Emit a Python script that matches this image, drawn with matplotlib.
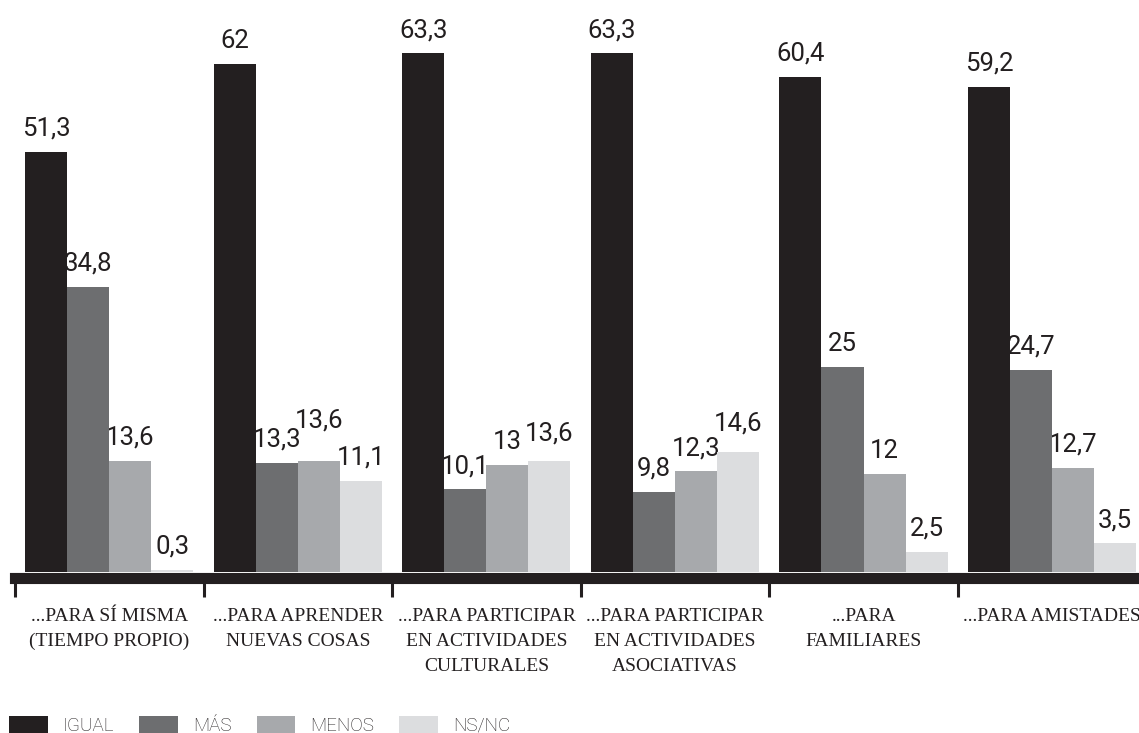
import matplotlib.pyplot as plt
import numpy as np
from matplotlib.patches import Patch

categories = ["...PARA SÍ MISMA\n(TIEMPO PROPIO)", "...PARA APRENDER\nNUEVAS COSAS",
              "...PARA PARTICIPAR\nEN ACTIVIDADES\nCULTURALES",
              "...PARA PARTICIPAR\nEN ACTIVIDADES\nASOCIATIVAS",
              "...PARA\nFAMILIARES", "...PARA AMISTADES"]
series = ["IGUAL", "MÁS", "MENOS", "NS/NC"]
igual = [51.3, 62, 63.3, 63.3, 60.4, 59.2]
mas = [34.8, 13.3, 10.1, 9.8, 25, 24.7]
menos = [13.6, 13.6, 13, 12.3, 12, 12.7]
nsnc = [0.3, 11.1, 13.6, 14.6, 2.5, 3.5]
colors = ["#231f20", "#6d6e70", "#a7a9ac", "#dcdddf"]

# labels nudged upward in the original to avoid overlap (series, group) -> extra points
nudge = {(2, 1): 12, (3, 3): 4, (3, 2): 3}

def fmt(v):
    s = f"{v:g}"
    return s.replace(".", ",")

fig = plt.figure(figsize=(11.39, 7.33), dpi=100)
ax = fig.add_axes([15 / 1139, 161 / 733, 1 - 15 / 1139, 572 / 733])

x = np.arange(len(categories))
w = 0.223
off = 0.053
for j, vals in enumerate([igual, mas, menos, nsnc]):
    bars = ax.bar(x + off + j * w, vals, width=w, align="edge", color=colors[j], zorder=3)
    anns = ax.bar_label(bars, labels=[fmt(v) for v in vals], padding=8,
                        fontsize=18.5, family="Roboto", color="#231f20")
    for i, a in enumerate(anns):
        a.set_zorder(2)
        if (j, i) in nudge:
            a.xyann = (0, 8 + nudge[(j, i)])

ax.set_xlim(0, 1124 / 188.6)
ax.set_ylim(0, 69.8)

for s in ["top", "right", "left"]:
    ax.spines[s].set_visible(False)
ax.spines["bottom"].set_linewidth(8)
ax.spines["bottom"].set_color("#231f20")
ax.spines["bottom"].set_position(("outward", 4))
ax.set_yticks([])

ax.set_xticks(np.arange(6))
ax.set_xticklabels([])
ax.tick_params(axis="x", which="major", length=14, width=2.2, color="#231f20", direction="out")
ax.set_xticks(x + 0.5, minor=True)
ax.set_xticklabels(categories, minor=True, family="Liberation Serif", fontsize=14,
                   color="#231f20", linespacing=1.6)
ax.tick_params(axis="x", which="minor", length=0, pad=22)

handles = [Patch(facecolor=c, edgecolor="none") for c in colors]
fig.legend(handles, series, loc="lower left", bbox_to_anchor=(-4 / 1139, -0.02), ncol=4,
           frameon=False, prop={"family": "Roboto", "weight": "light", "size": 13.5},
           handlelength=2.05, handleheight=1.0, handletextpad=0.8, columnspacing=1.35,
           borderpad=0.2, labelcolor="#231f20")

fig.savefig("out.png", dpi=100)
